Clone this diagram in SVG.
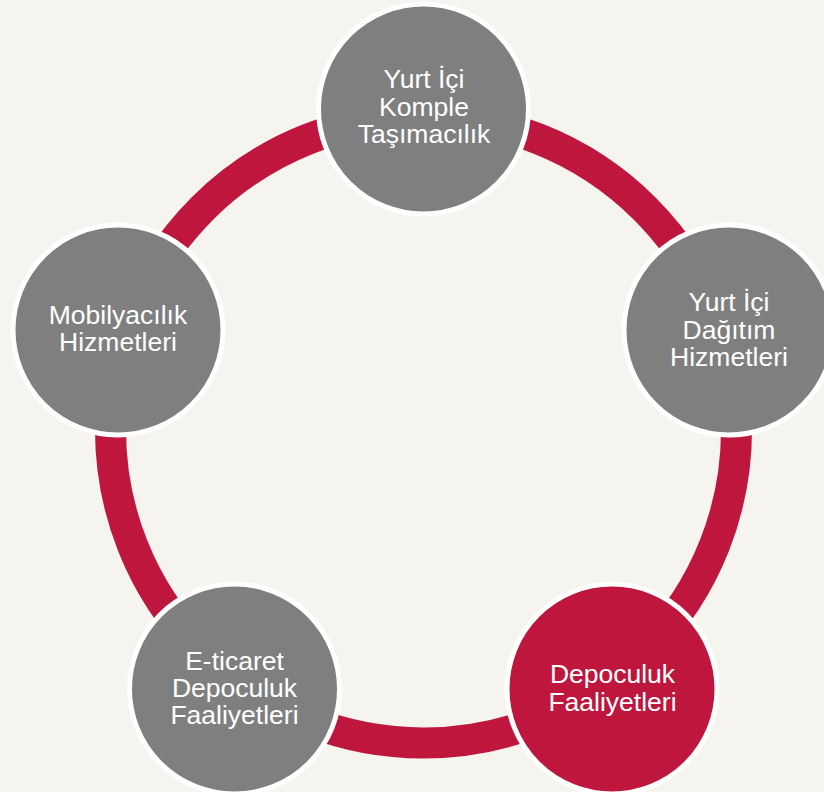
<svg xmlns="http://www.w3.org/2000/svg" width="824" height="792" viewBox="0 0 824 792">
<style>
.node{stroke:#ffffff;stroke-width:5}
.gray{fill:#7f7f7f}
.red{fill:#be163c}
.lbl{font-family:"Liberation Sans",Arial,sans-serif;font-size:26.5px;fill:#ffffff;text-anchor:middle}
</style>
<rect width="824" height="792" fill="#f5f4ef"/>
<g id="connectors">
<circle cx="423.5" cy="430" r="313" fill="none" stroke="#be163c" stroke-width="31"/>
</g>
<g id="node-top">
<circle class="node gray" cx="423.5" cy="109" r="105"/>
<text class="lbl"><tspan x="424" y="88">Yurt İçi</tspan><tspan x="424" y="116">Komple</tspan><tspan x="424" y="143">Taşımacılık</tspan></text>
</g>
<g id="node-right">
<circle class="node gray" cx="729" cy="330" r="105"/>
<text class="lbl"><tspan x="729" y="311">Yurt İçi</tspan><tspan x="729" y="339">Dağıtım</tspan><tspan x="729" y="366">Hizmetleri</tspan></text>
</g>
<g id="node-bottom-right">
<circle class="node red" cx="612" cy="689" r="105"/>
<text class="lbl"><tspan x="612.5" y="683">Depoculuk</tspan><tspan x="612.5" y="711">Faaliyetleri</tspan></text>
</g>
<g id="node-bottom-left">
<circle class="node gray" cx="234.5" cy="689" r="105"/>
<text class="lbl"><tspan x="234.5" y="670">E-ticaret</tspan><tspan x="234.5" y="697">Depoculuk</tspan><tspan x="234.5" y="724">Faaliyetleri</tspan></text>
</g>
<g id="node-left">
<circle class="node gray" cx="118" cy="330" r="105"/>
<text class="lbl"><tspan x="118" y="324">Mobilyacılık</tspan><tspan x="118" y="351">Hizmetleri</tspan></text>
</g>
</svg>
